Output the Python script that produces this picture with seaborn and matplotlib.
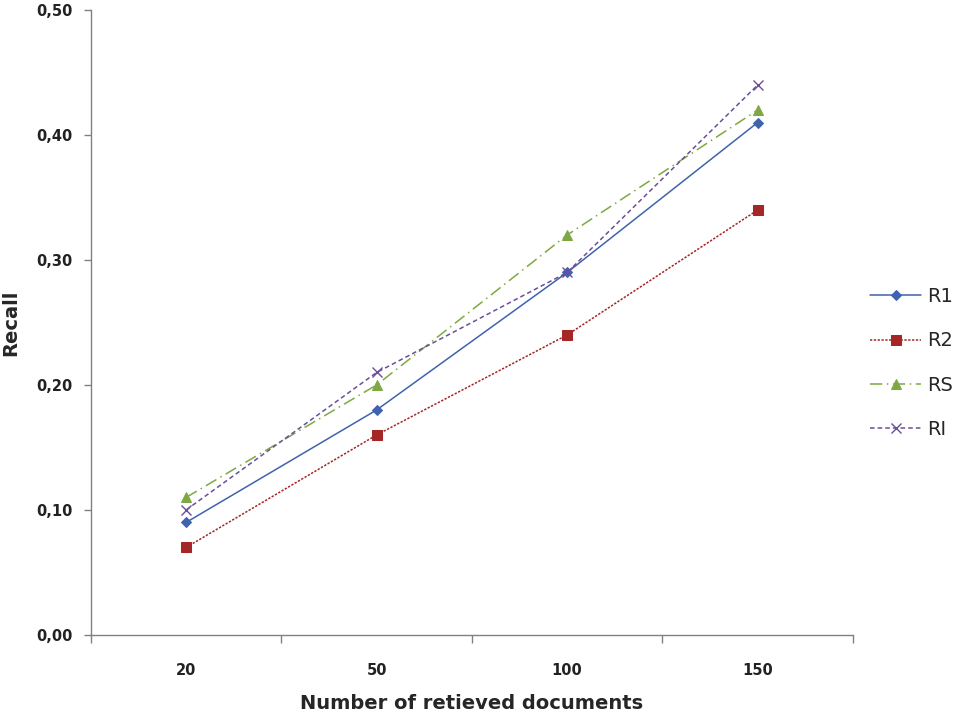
import pandas as pd
import seaborn as sns
import matplotlib.pyplot as plt
import matplotlib.ticker as mtick

# Chart data
categories = ["20", "50", "100", "150"]
r1 = [0.09, 0.18, 0.29, 0.41]
r2 = [0.07, 0.16, 0.24, 0.34]
rs = [0.11, 0.20, 0.32, 0.42]
ri = [0.10, 0.21, 0.29, 0.44]
series_names = ["R1", "R2", "RS", "RI"]

rows = []
for name, vals in zip(series_names, [r1, r2, rs, ri]):
    for i, v in enumerate(vals):
        rows.append({"pos": i, "docs": categories[i], "recall": v, "series": name})
df = pd.DataFrame(rows)

sns.set_style("white")
plt.rcParams["font.family"] = ["DejaVu Sans"]

fig = plt.figure(figsize=(9.67, 7.19), dpi=100)
ax = fig.add_axes([0.094, 0.117, 0.788, 0.869])

colors = {"R1": "#3F63AD", "R2": "#A52626", "RS": "#7FA844", "RI": "#6A4F9A"}
dashes = {"R2": (1.5, 1.0), "RS": (8, 3, 1, 3), "RI": (3, 2)}
markers = {"R1": "D", "R2": "s", "RS": "^", "RI": "x"}
msizes = {"R1": 5.5, "R2": 7, "RS": 7, "RI": 7}

# one call per series (seaborn won't mix filled and line markers)
for name in series_names:
    sub = df[df["series"] == name]
    kw = dict(color=colors[name], marker=markers[name], markersize=msizes[name],
              markeredgecolor=colors[name], markerfacecolor=colors[name],
              linewidth=1.1, label=name, ax=ax)
    if name == "R1":
        kw["linestyle"] = "-"
    else:
        kw["dashes"] = dashes[name]
    if name == "RI":
        kw["markeredgewidth"] = 1.0
    sns.lineplot(data=sub, x="pos", y="recall", **kw)

ax.set_xlim(-0.5, 3.5)
ax.set_ylim(0, 0.5)
ax.set_xticks(range(len(categories)))
ax.set_xticklabels(categories)
ax.set_xticks([-0.5, 0.5, 1.5, 2.5, 3.5], minor=True)
ax.tick_params(axis="x", which="major", length=0, pad=20)
ax.tick_params(axis="x", which="minor", bottom=True, length=6, width=1,
               color="#808080", direction="out")
ax.set_yticks([0, 0.1, 0.2, 0.3, 0.4, 0.5])
ax.yaxis.set_major_formatter(mtick.FuncFormatter(lambda v, _: f"{v:.2f}".replace(".", ",")))
ax.tick_params(axis="y", left=True, length=5, width=1, color="#808080",
               direction="out", pad=8)

for lbl in ax.get_xticklabels() + ax.get_yticklabels():
    lbl.set_fontweight("bold")
    lbl.set_fontsize(10.5)
    lbl.set_color("#222222")

for side in ["top", "right"]:
    ax.spines[side].set_visible(False)
for side in ["left", "bottom"]:
    ax.spines[side].set_color("#808080")
    ax.spines[side].set_linewidth(1.0)

ax.set_xlabel("Number of retieved documents", fontsize=14, fontweight="bold",
              family=["DejaVu Sans Condensed", "DejaVu Sans"], labelpad=12)
ax.set_ylabel("Recall", fontsize=14, fontweight="bold", labelpad=12)

handles, labels = ax.get_legend_handles_labels()
ax.legend(handles, labels, loc="center left", bbox_to_anchor=(1.0, 0.435),
          frameon=False, fontsize=14, handlelength=2.6, labelspacing=1.3,
          handletextpad=0.3)

fig.savefig("out.png", dpi=100)
